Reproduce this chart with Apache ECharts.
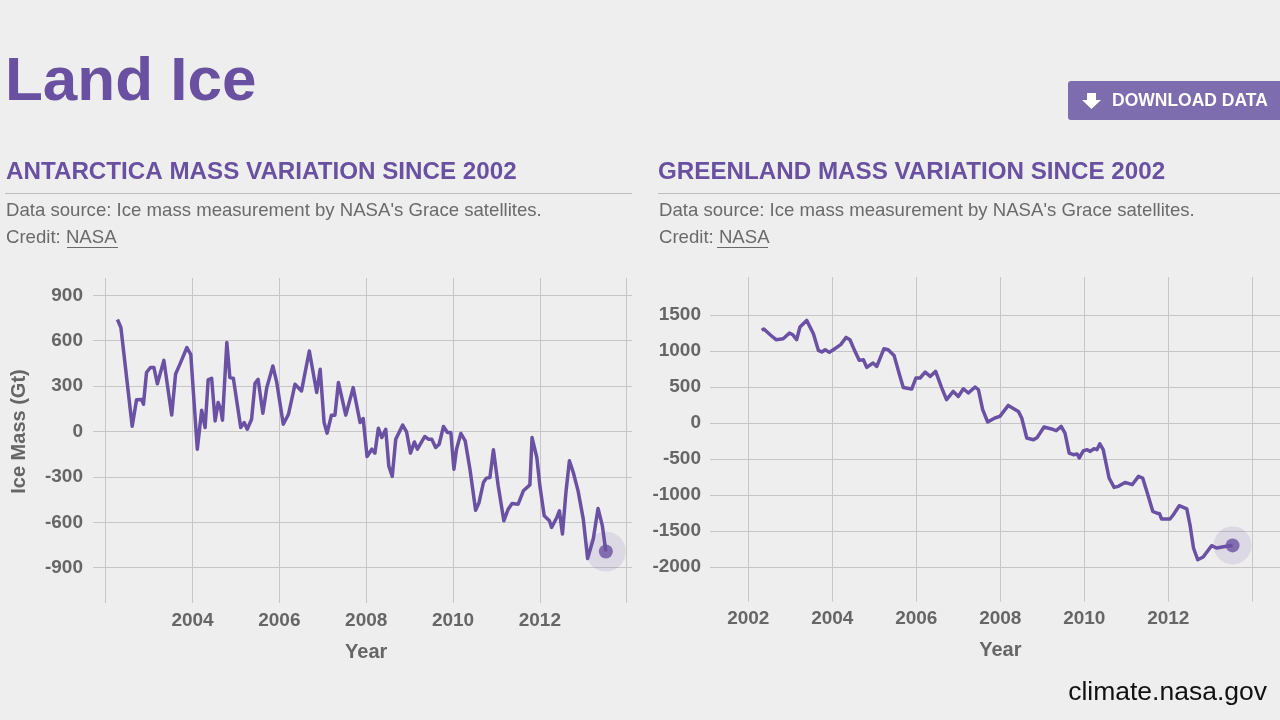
<!DOCTYPE html>
<html>
<head>
<meta charset="utf-8">
<script src="https://cdn.jsdelivr.net/npm/echarts@6/dist/echarts.min.js"></script>
<style>
html,body{margin:0;padding:0;background:#efeeee;}
#chart{width:1280px;height:720px;}
</style>
</head>
<body>
<div id="chart"></div>
<script>
// ---------- DATA ----------
const antYears = [2002.27, 2002.35, 2002.61, 2002.71, 2002.83, 2002.87, 2002.94, 2003.03, 2003.11, 2003.19, 2003.34, 2003.52, 2003.61, 2003.71, 2003.87, 2003.96, 2004.11, 2004.21, 2004.29, 2004.36, 2004.44, 2004.52, 2004.59, 2004.65, 2004.69, 2004.79, 2004.86, 2004.94, 2005.11, 2005.19, 2005.26, 2005.36, 2005.44, 2005.51, 2005.62, 2005.71, 2005.85, 2005.94, 2006.09, 2006.21, 2006.36, 2006.51, 2006.69, 2006.86, 2006.94, 2007.03, 2007.10, 2007.20, 2007.28, 2007.36, 2007.53, 2007.70, 2007.86, 2007.93, 2008.02, 2008.13, 2008.20, 2008.28, 2008.36, 2008.45, 2008.52, 2008.60, 2008.68, 2008.84, 2008.93, 2009.02, 2009.11, 2009.18, 2009.35, 2009.43, 2009.51, 2009.60, 2009.68, 2009.78, 2009.87, 2009.95, 2010.02, 2010.08, 2010.18, 2010.28, 2010.39, 2010.52, 2010.60, 2010.70, 2010.77, 2010.85, 2010.93, 2011.04, 2011.17, 2011.27, 2011.36, 2011.50, 2011.62, 2011.77, 2011.82, 2011.93, 2012.00, 2012.10, 2012.22, 2012.27, 2012.39, 2012.45, 2012.52, 2012.60, 2012.68, 2012.77, 2012.88, 2013.00, 2013.10, 2013.23, 2013.34, 2013.44, 2013.52];
const antMass = [740, 687, 35, 209, 211, 180, 390, 423, 423, 315, 470, 109, 380, 445, 555, 508, -117, 141, 26, 341, 352, 70, 191, 147, 75, 588, 357, 352, 26, 59, 15, 81, 319, 345, 121, 290, 433, 324, 48, 114, 312, 268, 532, 258, 411, 59, -11, 108, 108, 324, 108, 290, 59, 86, -165, -117, -143, 22, -40, 15, -227, -297, -51, 42, -3, -143, -69, -117, -33, -51, -51, -106, -84, 33, -7, -7, -249, -117, -13, -62, -249, -520, -469, -337, -308, -304, -121, -359, -590, -513, -476, -480, -392, -353, -40, -172, -359, -557, -590, -634, -568, -524, -678, -403, -194, -271, -392, -579, -839, -711, -509, -624, -793];

const grnYears = [2002.32, 2002.37, 2002.52, 2002.66, 2002.83, 2002.98, 2003.06, 2003.15, 2003.23, 2003.39, 2003.55, 2003.67, 2003.75, 2003.83, 2003.93, 2004.06, 2004.20, 2004.33, 2004.42, 2004.54, 2004.64, 2004.74, 2004.82, 2004.97, 2005.06, 2005.23, 2005.33, 2005.47, 2005.60, 2005.69, 2005.89, 2005.99, 2006.09, 2006.21, 2006.33, 2006.46, 2006.60, 2006.72, 2006.88, 2007.00, 2007.12, 2007.24, 2007.40, 2007.48, 2007.58, 2007.70, 2007.87, 2007.99, 2008.19, 2008.43, 2008.51, 2008.63, 2008.79, 2008.88, 2009.04, 2009.22, 2009.33, 2009.45, 2009.54, 2009.64, 2009.74, 2009.83, 2009.88, 2009.98, 2010.07, 2010.14, 2010.23, 2010.30, 2010.37, 2010.45, 2010.59, 2010.71, 2010.81, 2010.97, 2011.14, 2011.29, 2011.39, 2011.52, 2011.63, 2011.72, 2011.79, 2011.84, 2012.04, 2012.12, 2012.26, 2012.44, 2012.52, 2012.60, 2012.70, 2012.83, 2013.03, 2013.15, 2013.35, 2013.53];
const grnMass = [1286, 1305, 1226, 1157, 1171, 1250, 1226, 1157, 1333, 1425, 1240, 1008, 986, 1018, 981, 1032, 1088, 1189, 1157, 995, 870, 879, 772, 833, 786, 1032, 1018, 939, 671, 494, 472, 625, 625, 708, 647, 717, 494, 324, 439, 369, 476, 417, 500, 462, 185, 14, 69, 92, 244, 161, 69, -208, -232, -200, -56, -83, -107, -47, -139, -417, -440, -431, -486, -385, -371, -394, -357, -371, -288, -371, -764, -894, -880, -825, -857, -741, -764, -1010, -1227, -1250, -1260, -1333, -1333, -1274, -1149, -1194, -1426, -1736, -1899, -1861, -1704, -1736, -1714, -1700];

const antTicks = [-900, 900, 300];     // min, max, step
const grnTicks = [-2000, 1500, 500];
const yearTicks = [2002, 2014, 2];

// ---------- STYLE ----------
const PURPLE = '#6a51a3';
const GRID_C = '#c6c6c6';
const LABEL_C = '#666666';
const FONT = "'Liberation Sans', Arial, Helvetica, sans-serif";

const antData = antYears.map((y, i) => [y, antMass[i]]);
const grnData = grnYears.map((y, i) => [y, grnMass[i]]);
const antLast = antData[antData.length - 1];
const grnLast = grnData[grnData.length - 1];

const chart = echarts.init(document.getElementById('chart'), null, {renderer: 'canvas'});

// pixel geometry
const L = {x0: 105.7, x1: 626.7, hl: 93, hr: 632, yTop: 295.3, yBot: 567.7, vTop: 278, vBot: 603};
const R = {x0: 748.3, x1: 1252.3, hl: 710, hr: 1280, yTop: 315, yBot: 567, vTop: 277, vBot: 601.7};
function xr(g) { // data x-range of horizontal grid
  const ppy = (g.x1 - g.x0) / (yearTicks[1] - yearTicks[0]);
  return [yearTicks[0] - (g.x0 - g.hl) / ppy, yearTicks[1] + (g.hr - g.x1) / ppy];
}
const LX = xr(L), RX = xr(R);

const hideAxis = {show: false};
const lblStyle = {color: LABEL_C, fontFamily: FONT, fontWeight: 'bold', fontSize: 19};
const nameStyle = {color: LABEL_C, fontFamily: FONT, fontWeight: 'bold', fontSize: 20};

const option = {
  backgroundColor: '#efeeee',
  animation: false,
  grid: [
    {left: L.hl, width: L.hr - L.hl, top: L.yTop, height: L.yBot - L.yTop},
    {left: L.x0, width: L.x1 - L.x0, top: L.vTop, height: L.vBot - L.vTop},
    {left: R.hl, width: R.hr - R.hl, top: R.yTop, height: R.yBot - R.yTop},
    {left: R.x0, width: R.x1 - R.x0, top: R.vTop, height: R.vBot - R.vTop}
  ],
  xAxis: [
    {gridIndex: 0, type: 'value', min: LX[0], max: LX[1], axisLine: hideAxis, axisTick: hideAxis, axisLabel: hideAxis, splitLine: hideAxis},
    {gridIndex: 1, type: 'value', min: yearTicks[0], max: yearTicks[1], interval: yearTicks[2],
      axisLine: hideAxis, axisTick: hideAxis,
      axisLabel: Object.assign({margin: 8, formatter: v => (v === yearTicks[0] || v === yearTicks[1]) ? '' : String(v)}, lblStyle),
      splitLine: {show: true, lineStyle: {color: GRID_C, width: 1}},
      name: 'Year', nameLocation: 'middle', nameGap: 39, nameTextStyle: nameStyle},
    {gridIndex: 2, type: 'value', min: RX[0], max: RX[1], axisLine: hideAxis, axisTick: hideAxis, axisLabel: hideAxis, splitLine: hideAxis},
    {gridIndex: 3, type: 'value', min: yearTicks[0], max: yearTicks[1], interval: yearTicks[2],
      axisLine: hideAxis, axisTick: hideAxis,
      axisLabel: Object.assign({margin: 8, formatter: v => (v === yearTicks[1]) ? '' : String(v)}, lblStyle),
      splitLine: {show: true, lineStyle: {color: GRID_C, width: 1}},
      name: 'Year', nameLocation: 'middle', nameGap: 39, nameTextStyle: nameStyle}
  ],
  yAxis: [
    {gridIndex: 0, type: 'value', min: antTicks[0], max: antTicks[1], interval: antTicks[2],
      axisLine: hideAxis, axisTick: hideAxis,
      axisLabel: Object.assign({margin: 10, formatter: v => String(v)}, lblStyle),
      splitLine: {show: true, lineStyle: {color: GRID_C, width: 1}},
      name: 'Ice Mass (Gt)', nameLocation: 'middle', nameRotate: 90, nameGap: 64, nameTextStyle: nameStyle},
    {gridIndex: 1, type: 'value', min: 0, max: 1, show: false},
    {gridIndex: 2, type: 'value', min: grnTicks[0], max: grnTicks[1], interval: grnTicks[2],
      axisLine: hideAxis, axisTick: hideAxis,
      axisLabel: Object.assign({margin: 9, formatter: v => String(v)}, lblStyle),
      splitLine: {show: true, lineStyle: {color: GRID_C, width: 1}}},
    {gridIndex: 3, type: 'value', min: 0, max: 1, show: false}
  ],
  series: [
    {type: 'line', xAxisIndex: 0, yAxisIndex: 0, data: antData, showSymbol: false, symbol: 'none',
      lineStyle: {color: PURPLE, width: 3.5, join: 'round'}, z: 5},
    {type: 'scatter', xAxisIndex: 0, yAxisIndex: 0, data: [antLast], symbolSize: 40,
      itemStyle: {color: 'rgba(106,81,163,0.17)'}, z: 4},
    {type: 'scatter', xAxisIndex: 0, yAxisIndex: 0, data: [antLast], symbolSize: 14,
      itemStyle: {color: PURPLE}, z: 6},
    {type: 'line', xAxisIndex: 2, yAxisIndex: 2, data: grnData, showSymbol: false, symbol: 'none',
      lineStyle: {color: PURPLE, width: 3.5, join: 'round'}, z: 5},
    {type: 'scatter', xAxisIndex: 2, yAxisIndex: 2, data: [grnLast], symbolSize: 38,
      itemStyle: {color: 'rgba(106,81,163,0.17)'}, z: 4},
    {type: 'scatter', xAxisIndex: 2, yAxisIndex: 2, data: [grnLast], symbolSize: 14,
      itemStyle: {color: PURPLE}, z: 6}
  ],
  graphic: [
    {type: 'text', style: {text: 'Land Ice', x: 5, y: 83, fill: '#6950a1', font: 'bold 62px ' + FONT, textVerticalAlign: 'middle', verticalAlign: 'middle'}},
    // download button
    {type: 'rect', shape: {x: 1068, y: 81, width: 220, height: 39, r: 3}, style: {fill: '#7d6cae'}},
    {type: 'polygon', shape: {points: [[1087, 93], [1096, 93], [1096, 100], [1101, 100], [1091.5, 109], [1082, 100], [1087, 100]]}, style: {fill: '#ffffff'}},
    {type: 'text', style: {text: 'DOWNLOAD DATA', x: 1112, y: 101, fill: '#ffffff', font: 'bold 17.5px ' + FONT, textVerticalAlign: 'middle', verticalAlign: 'middle'}},
    // left header
    {type: 'text', style: {text: 'ANTARCTICA MASS VARIATION SINCE 2002', x: 6, y: 172, fill: '#6950a1', font: 'bold 24.2px ' + FONT, textVerticalAlign: 'middle', verticalAlign: 'middle'}},
    {type: 'line', shape: {x1: 5, y1: 193.5, x2: 632, y2: 193.5}, style: {stroke: '#bdbdbd', lineWidth: 1}},
    {type: 'text', style: {text: "Data source: Ice mass measurement by NASA's Grace satellites.", x: 6, y: 211, fill: '#6a6a6a', font: '18.6px ' + FONT, textVerticalAlign: 'middle', verticalAlign: 'middle'}},
    {type: 'text', style: {text: 'Credit: NASA', x: 6, y: 238, fill: '#6a6a6a', font: '18.6px ' + FONT, textVerticalAlign: 'middle', verticalAlign: 'middle'}},
    {type: 'line', shape: {x1: 67, y1: 247.5, x2: 118, y2: 247.5}, style: {stroke: '#6a6a6a', lineWidth: 1}},
    // right header
    {type: 'text', style: {text: 'GREENLAND MASS VARIATION SINCE 2002', x: 658, y: 172, fill: '#6950a1', font: 'bold 24.2px ' + FONT, textVerticalAlign: 'middle', verticalAlign: 'middle'}},
    {type: 'line', shape: {x1: 658, y1: 193.5, x2: 1280, y2: 193.5}, style: {stroke: '#bdbdbd', lineWidth: 1}},
    {type: 'text', style: {text: "Data source: Ice mass measurement by NASA's Grace satellites.", x: 659, y: 211, fill: '#6a6a6a', font: '18.6px ' + FONT, textVerticalAlign: 'middle', verticalAlign: 'middle'}},
    {type: 'text', style: {text: 'Credit: NASA', x: 659, y: 238, fill: '#6a6a6a', font: '18.6px ' + FONT, textVerticalAlign: 'middle', verticalAlign: 'middle'}},
    {type: 'line', shape: {x1: 717, y1: 247.5, x2: 768, y2: 247.5}, style: {stroke: '#6a6a6a', lineWidth: 1}},
    // footer
    {type: 'text', style: {text: 'climate.nasa.gov', x: 1267, y: 693, fill: '#111111', font: '26.5px ' + FONT, textAlign: 'right', align: 'right', textVerticalAlign: 'middle', verticalAlign: 'middle'}}
  ]
};
chart.setOption(option);
</script>
</body>
</html>
